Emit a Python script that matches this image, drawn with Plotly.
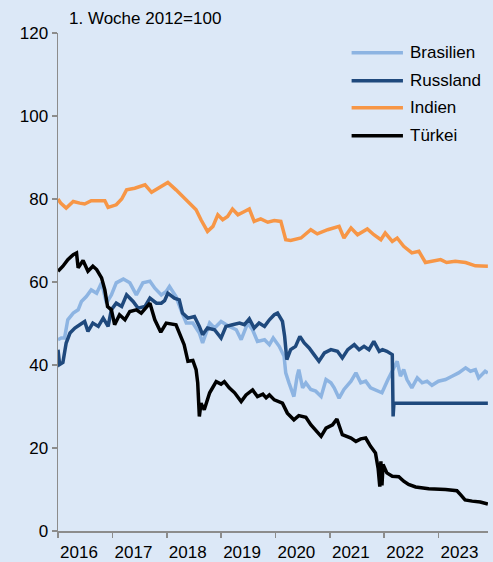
import pandas as pd
import plotly.graph_objects as go

# ---------------- data (decimal years, index 1. Woche 2012 = 100) ----------------
years = [2016, 2017, 2018, 2019, 2020, 2021, 2022, 2023]
year_labels = ["2016", "2017", "2018", "2019", "2020", "2021", "2022", "2023"]

brasilien_t = [2016.00, 2016.06, 2016.12, 2016.18, 2016.28, 2016.37, 2016.43, 2016.52, 2016.61, 2016.71,
               2016.80, 2016.89, 2016.98, 2017.07, 2017.20, 2017.32, 2017.44, 2017.56, 2017.69, 2017.78,
               2017.90, 2017.99, 2018.05, 2018.17, 2018.26, 2018.36, 2018.48, 2018.60, 2018.66, 2018.79,
               2018.88, 2019.00, 2019.15, 2019.28, 2019.37, 2019.49, 2019.58, 2019.67, 2019.80, 2019.89,
               2019.96, 2020.07, 2020.16, 2020.19, 2020.25, 2020.34, 2020.40, 2020.43, 2020.50, 2020.56,
               2020.65, 2020.74, 2020.84, 2020.93, 2021.02, 2021.08, 2021.17, 2021.26, 2021.39, 2021.48,
               2021.57, 2021.66, 2021.75, 2021.87, 2021.96, 2022.07, 2022.16, 2022.24, 2022.30, 2022.36,
               2022.42, 2022.51, 2022.61, 2022.70, 2022.79, 2022.88, 2023.00, 2023.13, 2023.25, 2023.37,
               2023.50, 2023.59, 2023.68, 2023.74, 2023.86, 2023.91]
brasilien_v = [46.1, 46.5, 46.5, 50.9, 52.5, 53.3, 55.3, 56.5, 58.1, 57.3,
               59.8, 54.9, 56.9, 59.8, 60.7, 59.8, 56.9, 59.8, 60.2, 58.5,
               56.9, 57.7, 58.9, 56.5, 53.3, 50.1, 50.1, 47.7, 45.3, 50.1,
               48.9, 50.5, 49.3, 48.5, 46.1, 50.1, 48.5, 45.7, 46.1, 44.9,
               46.5, 44.5, 42.1, 38.1, 35.7, 32.4, 37.3, 38.9, 34.5, 35.7,
               34.1, 33.7, 32.4, 36.5, 35.7, 34.5, 32.0, 34.1, 36.1, 38.1,
               35.7, 36.1, 34.5, 33.7, 33.3, 36.5, 38.9, 40.9, 37.3, 38.9,
               36.5, 34.5, 36.9, 35.7, 36.1, 35.1, 36.1, 36.5, 37.3, 38.1,
               39.3, 38.5, 38.9, 36.9, 38.5, 38.1]

russland_t = [2016.00, 2016.03, 2016.09, 2016.15, 2016.22, 2016.31, 2016.40, 2016.49, 2016.55, 2016.64,
              2016.74, 2016.83, 2016.92, 2016.98, 2017.07, 2017.17, 2017.26, 2017.38, 2017.47, 2017.60,
              2017.69, 2017.81, 2017.90, 2017.96, 2018.02, 2018.14, 2018.23, 2018.29, 2018.39, 2018.51,
              2018.60, 2018.66, 2018.75, 2018.88, 2019.00, 2019.09, 2019.21, 2019.34, 2019.43, 2019.52,
              2019.61, 2019.70, 2019.80, 2019.89, 2019.98, 2020.04, 2020.13, 2020.17, 2020.21, 2020.28,
              2020.37, 2020.45, 2020.53, 2020.62, 2020.71, 2020.80, 2020.90, 2021.02, 2021.14, 2021.23,
              2021.33, 2021.45, 2021.54, 2021.63, 2021.72, 2021.81, 2021.91, 2021.97, 2022.05, 2022.11,
              2022.15, 2022.165, 2022.18, 2023.91]
russland_v = [43.7, 40.1, 40.6, 45.3, 47.7, 48.9, 49.7, 50.5, 48.1, 50.1,
              49.3, 51.3, 49.3, 53.3, 54.9, 54.1, 56.9, 55.3, 53.7, 54.1,
              56.1, 54.9, 54.9, 55.5, 57.3, 56.1, 55.7, 52.5, 51.3, 51.7,
              49.3, 47.3, 48.9, 48.5, 46.5, 49.3, 49.7, 50.1, 49.7, 51.1,
              48.9, 50.1, 49.3, 50.9, 52.1, 52.5, 50.5, 46.9, 41.3, 43.7,
              44.5, 46.9, 45.3, 44.1, 42.5, 40.9, 42.9, 43.7, 43.3, 41.7,
              43.7, 44.9, 43.7, 44.5, 43.7, 45.7, 43.3, 43.7, 43.3, 42.9,
              42.5, 27.6, 30.8, 30.8]

indien_t = [2016.00, 2016.05, 2016.15, 2016.28, 2016.40, 2016.49, 2016.61, 2016.74, 2016.86, 2016.92,
            2017.07, 2017.17, 2017.26, 2017.41, 2017.53, 2017.60, 2017.72, 2017.84, 2017.99, 2018.02,
            2018.17, 2018.29, 2018.42, 2018.54, 2018.63, 2018.75, 2018.85, 2018.94, 2019.03, 2019.12,
            2019.21, 2019.31, 2019.43, 2019.52, 2019.61, 2019.73, 2019.86, 2019.98, 2020.10, 2020.19,
            2020.28, 2020.47, 2020.65, 2020.77, 2020.96, 2021.17, 2021.26, 2021.39, 2021.51, 2021.69,
            2021.81, 2021.94, 2022.02, 2022.15, 2022.24, 2022.36, 2022.51, 2022.64, 2022.76, 2022.88,
            2023.04, 2023.15, 2023.31, 2023.50, 2023.68, 2023.91]
indien_v = [80.0, 79.0, 77.8, 79.4, 79.0, 78.8, 79.6, 79.6, 79.6, 78.0,
            78.6, 80.0, 82.2, 82.6, 83.0, 83.4, 81.6, 82.6, 83.6, 84.0,
            82.2, 80.6, 79.0, 77.4, 75.0, 72.2, 73.4, 76.2, 75.0, 75.8,
            77.6, 76.2, 77.0, 77.6, 74.6, 75.2, 74.4, 74.8, 74.6, 70.2,
            70.0, 70.6, 72.6, 71.6, 72.6, 73.4, 70.6, 73.0, 71.4, 72.8,
            71.4, 70.2, 71.8, 69.8, 70.6, 68.6, 67.0, 67.4, 64.7, 65.0,
            65.4, 64.7, 65.0, 64.7, 63.9, 63.8]

tuerkei_t = [2016.00, 2016.09, 2016.18, 2016.28, 2016.34, 2016.37, 2016.46, 2016.55, 2016.64, 2016.71,
             2016.80, 2016.86, 2016.91, 2016.98, 2017.04, 2017.13, 2017.23, 2017.32, 2017.44, 2017.53,
             2017.69, 2017.78, 2017.89, 2017.99, 2018.17, 2018.26, 2018.32, 2018.39, 2018.48, 2018.54,
             2018.57, 2018.60, 2018.63, 2018.69, 2018.79, 2018.91, 2019.00, 2019.06, 2019.15, 2019.25,
             2019.37, 2019.46, 2019.58, 2019.67, 2019.77, 2019.83, 2019.89, 2019.98, 2020.13, 2020.22,
             2020.34, 2020.43, 2020.56, 2020.65, 2020.74, 2020.84, 2020.93, 2021.05, 2021.13, 2021.23,
             2021.39, 2021.48, 2021.57, 2021.66, 2021.75, 2021.84, 2021.89, 2021.92, 2021.94, 2021.96,
             2021.98, 2022.05, 2022.15, 2022.27, 2022.36, 2022.45, 2022.58, 2022.82, 2023.13, 2023.34,
             2023.41, 2023.49, 2023.62, 2023.77, 2023.91]
tuerkei_v = [62.6, 63.8, 65.4, 66.6, 67.0, 63.4, 65.2, 62.6, 63.8, 63.0,
             61.0, 58.1, 54.1, 53.3, 49.7, 52.1, 50.9, 52.9, 53.3, 52.5,
             54.9, 50.9, 47.9, 50.1, 49.7, 46.9, 44.9, 40.9, 41.1, 38.9,
             35.7, 27.6, 30.8, 29.2, 33.3, 36.0, 35.4, 36.0, 34.5, 33.3,
             31.2, 32.8, 34.0, 32.4, 33.0, 32.1, 32.8, 31.6, 30.8, 28.4,
             26.8, 27.8, 27.4, 25.6, 24.4, 22.8, 24.8, 25.6, 27.0, 23.2,
             22.4, 21.6, 22.2, 22.4, 20.4, 18.8, 15.0, 10.7, 16.8, 11.0,
             16.0, 14.0, 13.2, 13.1, 12.0, 11.2, 10.6, 10.2, 10.0, 9.7,
             8.7, 7.5, 7.2, 7.0, 6.5]

series_names = ["Brasilien", "Russland", "Indien", "Türkei"]
series_colors = ["#8DB4E2", "#1F497D", "#F79646", "#000000"]
title_text = "1. Woche 2012=100"


def to_dates(ts):
    out = []
    for t in ts:
        y = int(t)
        start = pd.Timestamp(year=y, month=1, day=1)
        end = pd.Timestamp(year=y + 1, month=1, day=1)
        out.append(start + (end - start) * (t - y))
    return out


series = [(brasilien_t, brasilien_v), (russland_t, russland_v),
          (indien_t, indien_v), (tuerkei_t, tuerkei_v)]

FONT = "Liberation Sans, Arial, sans-serif"
BG = "#DCE8F7"
AXIS = "#8C8C8C"

fig = go.Figure()
for (t, v), name, col in zip(series, series_names, series_colors):
    fig.add_trace(go.Scatter(x=to_dates(t), y=v, mode="lines", name=name,
                             line=dict(color=col, width=3.5), showlegend=False,
                             hoverinfo="skip"))

# custom legend (line samples + labels)
leg_y = [0.9604, 0.9042, 0.8500, 0.7938]
shapes = []
annotations = []
for name, col, yy in zip(series_names, series_colors, leg_y):
    shapes.append(dict(type="line", xref="paper", yref="paper", x0=0.6828, x1=0.8022,
                       y0=yy, y1=yy, line=dict(color=col, width=3.5)))
    annotations.append(dict(xref="paper", yref="paper", x=0.814, y=yy, text=name,
                            showarrow=False, xanchor="left", yanchor="middle",
                            font=dict(family=FONT, size=17, color="#000000")))

annotations.append(dict(xref="paper", yref="paper", x=0.02, y=1.0 + 14.5 / 498,
                        text=title_text, showarrow=False, xanchor="left", yanchor="middle",
                        font=dict(family=FONT, size=17, color="#000000")))

fig.update_layout(
    width=493, height=562,
    margin=dict(l=58, r=5, t=33, b=31, pad=0, autoexpand=False),
    paper_bgcolor=BG, plot_bgcolor=BG,
    font=dict(family=FONT, size=17, color="#000000"),
    shapes=shapes, annotations=annotations,
    showlegend=False,
)
fig.update_xaxes(
    type="date",
    range=["2016-01-01", "2023-11-30"],
    tickmode="array",
    tickvals=[f"{y}-01-01" for y in years],
    ticktext=year_labels,
    ticks="outside", ticklen=5, tickwidth=1.5, tickcolor=AXIS,
    ticklabelshift=21,
    showline=True, linecolor=AXIS, linewidth=1.5,
    showgrid=False, zeroline=False, automargin=False,
    tickfont=dict(family=FONT, size=17, color="#000000"),
)
fig.update_yaxes(
    range=[0, 120], tick0=0, dtick=20,
    ticks="outside", ticklen=5, tickwidth=1.5, tickcolor=AXIS,
    showline=True, linecolor=AXIS, linewidth=1.5,
    showgrid=False, zeroline=False, automargin=False,
    tickfont=dict(family=FONT, size=17, color="#000000"),
)

fig.write_html(
    "out.html",
    config={"displayModeBar": False, "staticPlot": True},
    post_script="document.body.style.margin='0';document.body.style.padding='0';"
                "document.body.style.overflow='hidden';document.body.style.background='" + BG + "';",
)
